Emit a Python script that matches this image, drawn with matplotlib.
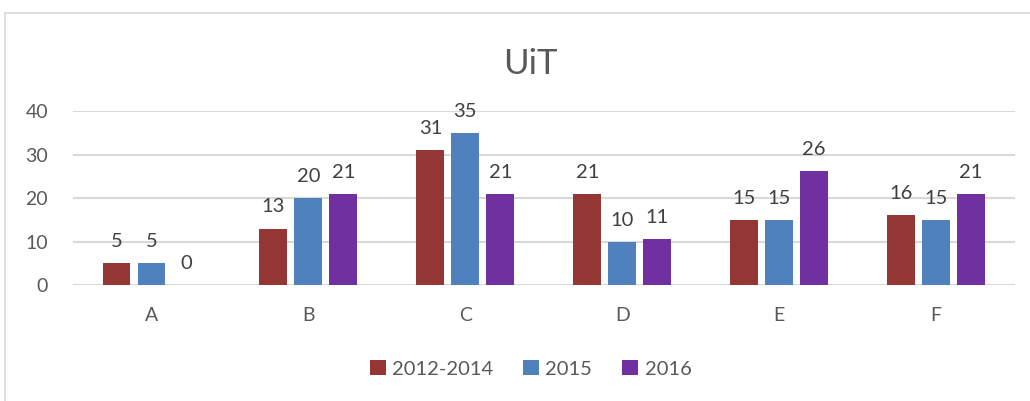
import math
import numpy as np
import matplotlib
matplotlib.use('Agg')
import matplotlib.pyplot as plt
from matplotlib.patches import Rectangle

categories = ['A', 'B', 'C', 'D', 'E', 'F']
series_names = ['2012-2014', '2015', '2016']
v_2012_2014 = [5, 13, 31, 21, 15, 16]
v_2015 = [5, 20, 35, 10, 15, 15]
v_2016 = [0, 21, 21, 10.5, 26.2, 21]
colors = ['#943634', '#4F81BD', '#7030A0']

plt.rcParams['font.family'] = ['Lato', 'DejaVu Sans']
text_color = '#595959'
grid_color = '#D9D9D9'

fig = plt.figure(figsize=(10.30, 4.01), dpi=100)
ax = fig.add_axes([0.0709, 0.289, 0.9141, 0.434])

x = np.arange(len(categories))
width = 0.178
step = 0.223
for i, (vals, name) in enumerate(zip([v_2012_2014, v_2015, v_2016], series_names)):
    pos = x + (i - 1) * step
    ax.bar(pos, vals, width=width, color=colors[i], label=name, zorder=3)
    for p, v in zip(pos, vals):
        ax.text(p, v + 3.0, str(math.floor(v + 0.5)), ha='center', va='bottom',
                fontsize=14.5, color='#404040', clip_on=False)

ax.set_xlim(-0.5, len(categories) - 0.5)
ax.set_ylim(0, 40)
ax.set_yticks([0, 10, 20, 30, 40])
ax.set_xticks(x)
ax.set_xticklabels(categories)
ax.tick_params(axis='both', length=0, labelsize=14, labelcolor=text_color)
ax.tick_params(axis='x', pad=16)
ax.tick_params(axis='y', pad=18)
ax.grid(axis='y', color=grid_color, linewidth=1.5, zorder=0)
for s in ax.spines.values():
    s.set_visible(False)

fig.text(0.515, 0.84, 'UiT', ha='center', va='center', fontsize=25, color=text_color)

fig.legend(loc='center', bbox_to_anchor=(0.515, 0.08), ncol=3, frameon=False,
           fontsize=14.5, handlelength=0.8, handleheight=0.8, handletextpad=0.3,
           columnspacing=1.5, labelcolor=text_color)

# chart border (cut off at right and bottom like the screenshot)
fig.patches.append(Rectangle((5 / 1030, -0.05), 1.1, 1 - 13 / 401 + 0.05,
                             transform=fig.transFigure, fill=False,
                             edgecolor=grid_color, linewidth=1.2))

fig.savefig('out.png', dpi=100)
